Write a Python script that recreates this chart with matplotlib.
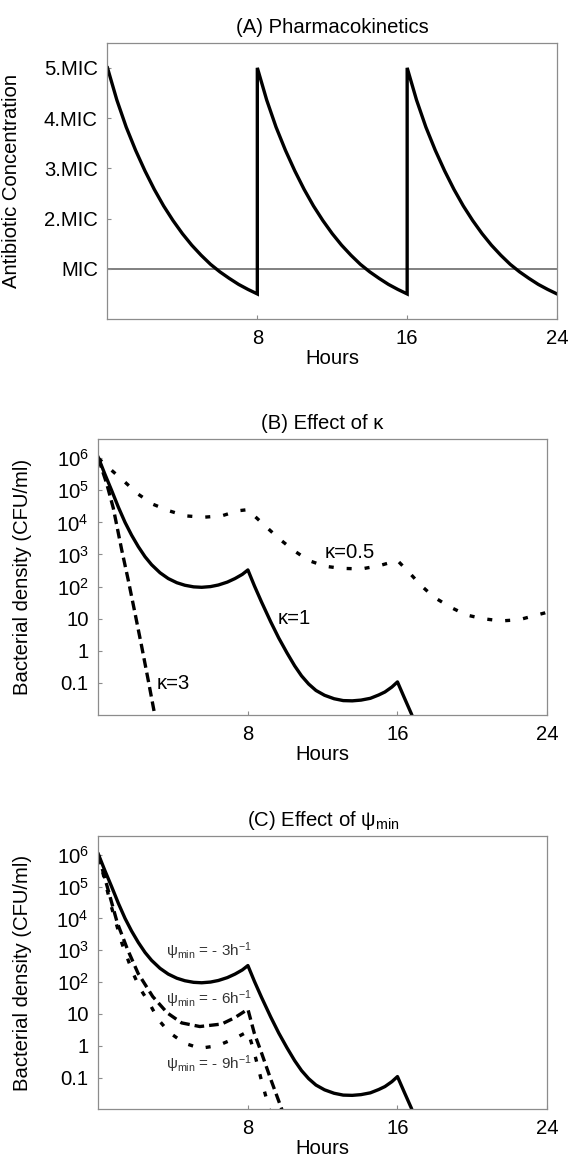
import numpy as np
import matplotlib
matplotlib.use("Agg")
import matplotlib.pyplot as plt

plt.rcParams['font.family'] = ['Liberation Sans', 'DejaVu Sans']
plt.rcParams['font.size'] = 14.6
plt.rcParams['mathtext.fontset'] = 'custom'
plt.rcParams['mathtext.rm'] = 'Liberation Sans'
plt.rcParams['mathtext.it'] = 'Liberation Sans:italic'
plt.rcParams['mathtext.bf'] = 'Liberation Sans:bold'

FS = 14.6

# ---------------- data ----------------
# (A) one dosing interval, repeated at each dose time
dose_times = [0, 8, 16]
pk_period_hours = [0, 0.5, 1, 1.5, 2, 2.5, 3, 3.5, 4, 4.5, 5, 5.5, 6, 6.5, 7, 7.5, 8]
pk_period_conc = [5.0, 4.36, 3.82, 3.36, 2.95, 2.58, 2.25, 1.96, 1.70, 1.47,
                  1.27, 1.09, 0.94, 0.81, 0.69, 0.59, 0.50]
mic_level = 1.0
pk_ticks = [1, 2, 3, 4, 5]
pk_ticklabels = ['MIC', '2.MIC', '3.MIC', '4.MIC', '5.MIC']

# (B) effect of kappa  (bacterial density, CFU/ml)
k1_hours = [0, 0.35, 0.71, 1.07, 1.43, 1.78, 2.14, 2.5, 2.85, 3.3, 3.74, 4.2, 4.63,
            5.1, 5.53, 6.0, 6.42, 6.9, 7.31, 7.7, 8.0,
            8.35, 8.73, 9.22, 9.65, 10.09, 10.5, 10.87, 11.25, 11.64, 12.1, 12.61,
            13.1, 13.58, 14.05, 14.55, 15.0, 15.33, 15.7, 16.0,
            16.37, 16.74, 16.9]
k1_density = [1.05e6, 3.2e5, 1.0e5, 3.0e4, 1.0e4, 4.0e3, 1.75e3, 8.5e2, 4.8e2, 2.7e2,
              1.78e2, 1.32e2, 1.1e2, 9.8e1, 9.5e1, 1.0e2, 1.12e2, 1.38e2, 1.78e2,
              2.4e2, 3.3e2,
              1.05e2, 3.3e1, 8.0, 2.5, 0.86, 0.34, 0.165, 0.092, 0.058, 0.041,
              0.032, 0.028, 0.0275, 0.029, 0.033, 0.042, 0.052, 0.074, 0.107,
              0.034, 0.011, 0.0063]

k05_hours = [0, 0.58, 1.36, 2.13, 2.91, 3.78, 4.66, 5.63, 6.6, 7.47, 8.0, 8.25, 9.02,
             9.7, 10.48, 11.25, 12.13, 13.0, 14.07, 15.04, 16.0, 16.69, 17.27,
             17.95, 18.82, 19.69, 20.57, 21.54, 22.51, 23.86, 24.0]
k05_density = [1.0e6, 4.9e5, 1.95e5, 7.6e4, 3.7e4, 2.3e4, 1.6e4, 1.45e4, 1.6e4,
               2.3e4, 2.5e4, 1.8e4, 6.9e3, 3.0e3, 1.3e3, 6.5e2, 4.3e2, 3.7e2,
               3.55e2, 4.5e2, 6.5e2, 2.5e2, 1.07e2, 4.7e1, 2.3e1, 1.3e1, 1.0e1,
               8.5, 9.3, 1.5e1, 1.6e1]

k3_hours = [0, 0.45, 0.8, 1.25, 1.6, 1.96, 2.32, 2.67, 3.03, 3.1]
k3_density = [1.0e6, 1.6e5, 2.8e4, 1.4e3, 1.6e2, 1.5e1, 1.35, 0.12, 0.0093, 0.0056]

# (C) effect of psi_min  (psi_min = -3 is the same curve as kappa = 1)
psi6_hours = [0, 0.5, 1.01, 1.55, 2.13, 2.91, 3.69, 4.46, 5.43, 6.6, 7.3, 8.0,
              8.34, 8.73, 9.22, 9.8, 9.9]
psi6_density = [1.0e6, 8.9e4, 7.4e3, 1.1e3, 1.86e2, 3.5e1, 1.07e1, 5.2, 4.0,
                4.8, 7.6, 1.4e1, 2.5, 0.59, 0.089, 0.0105, 0.007]
psi9_hours = [0, 0.3, 0.66, 1.27, 1.84, 2.23, 2.72, 3.21, 3.8, 4.6, 5.44, 6.38,
              7.31, 8.0, 8.29, 8.73, 9.0, 9.15, 9.25]
psi9_density = [1.0e6, 2.0e5, 2.8e4, 1.6e3, 2.0e2, 6.3e1, 2.2e1, 6.6, 2.6, 1.2,
                0.83, 1.0, 1.7, 2.8, 0.79, 0.079, 0.021, 0.01, 0.0063]

log_ticks = [0.1, 1, 10, 1e2, 1e3, 1e4, 1e5, 1e6]
log_ticklabels = ['0.1', '1', '10', r'$\mathregular{10^{2}}$', r'$\mathregular{10^{3}}$',
                  r'$\mathregular{10^{4}}$', r'$\mathregular{10^{5}}$', r'$\mathregular{10^{6}}$']
hour_ticks = [8, 16, 24]

# ---------------- styling ----------------
frame_col = '#8c8c8c'
LW = 2.4
DASH = (0, (2.9, 1.5))
DOT = (0, (1.5, 3.9))


def style_axes(ax):
    for s in ax.spines.values():
        s.set_color(frame_col)
        s.set_linewidth(0.9)
    ax.tick_params(direction='in', length=3, width=0.8, color=frame_col,
                   labelsize=FS)
    ax.tick_params(axis='x', pad=7)
    ax.tick_params(axis='y', pad=7)
    ax.set_xlim(0, 24)
    ax.set_xticks(hour_ticks)
    ax.set_xticklabels([str(h) for h in hour_ticks])
    ax.set_xlabel('Hours', fontsize=FS, labelpad=1)


fig = plt.figure(figsize=(5.69, 11.61), dpi=100)

# ---------- (A) ----------
axA = fig.add_axes([0.1889, 0.7252, 0.790, 0.2380])
pk_t = np.concatenate([np.array(pk_period_hours) + d for d in dose_times])
pk_c = np.concatenate([np.array(pk_period_conc) for d in dose_times])
axA.axhline(mic_level, color='#5e5e5e', lw=1.1, zorder=1)
axA.plot(pk_t, pk_c, color='black', lw=LW, solid_joinstyle='miter', zorder=2)
style_axes(axA)
axA.set_ylim(0, 5.5)
axA.set_yticks(pk_ticks)
axA.set_yticklabels(pk_ticklabels)
axA.set_ylabel('Antibiotic Concentration', fontsize=FS)
axA.yaxis.set_label_coords(-0.192, 0.5)
axA.set_title('(A) Pharmacokinetics', fontsize=FS, pad=7)


def setup_log(ax):
    ax.set_yscale('log')
    ax.set_ylim(1e-2, 10 ** 6.6)
    ax.set_yticks(log_ticks)
    ax.set_yticklabels(log_ticklabels)
    ax.minorticks_off()
    ax.set_ylabel('Bacterial density (CFU/ml)', fontsize=FS)
    ax.yaxis.set_label_coords(-0.148, 0.5)


# ---------- (B) ----------
axB = fig.add_axes([0.1728, 0.3842, 0.7886, 0.2377])
axB.plot(k05_hours, k05_density, color='black', lw=LW, linestyle=DOT)
axB.plot(k3_hours, k3_density, color='black', lw=LW, linestyle=DASH)
axB.plot(k1_hours, k1_density, color='black', lw=LW, solid_joinstyle='round')
style_axes(axB)
setup_log(axB)
axB.set_title('(B) Effect of κ', fontsize=FS, pad=7)
axB.text(12.09, 10 ** 3.06, 'κ=0.5', fontsize=FS, va='center', ha='left')
axB.text(9.6, 10 ** 1.0, 'κ=1', fontsize=FS, va='center', ha='left')
axB.text(3.1, 10 ** -1.02, 'κ=3', fontsize=FS, va='center', ha='left')

# ---------- (C) ----------
axC = fig.add_axes([0.1728, 0.0445, 0.7886, 0.2357])
axC.plot(psi9_hours, psi9_density, color='black', lw=LW, linestyle=DOT)
axC.plot(psi6_hours, psi6_density, color='black', lw=LW, linestyle=DASH)
axC.plot(k1_hours, k1_density, color='black', lw=LW, solid_joinstyle='round')
style_axes(axC)
setup_log(axC)
axC.set_title(r'(C) Effect of ψ$_{\mathregular{min}}$', fontsize=FS, pad=7)
psi_labels = [r'ψ$_{\mathregular{min}}$ = - 3h$^{\mathregular{-1}}$',
              r'ψ$_{\mathregular{min}}$ = - 6h$^{\mathregular{-1}}$',
              r'ψ$_{\mathregular{min}}$ = - 9h$^{\mathregular{-1}}$']
psi_label_pos = [(3.6, 10 ** 2.96), (3.6, 10 ** 1.46), (3.6, 10 ** -0.57)]
for lab, (x, y) in zip(psi_labels, psi_label_pos):
    axC.text(x, y, lab, fontsize=11, va='center', ha='left', color='#333333')

fig.savefig('out.png', dpi=100)
